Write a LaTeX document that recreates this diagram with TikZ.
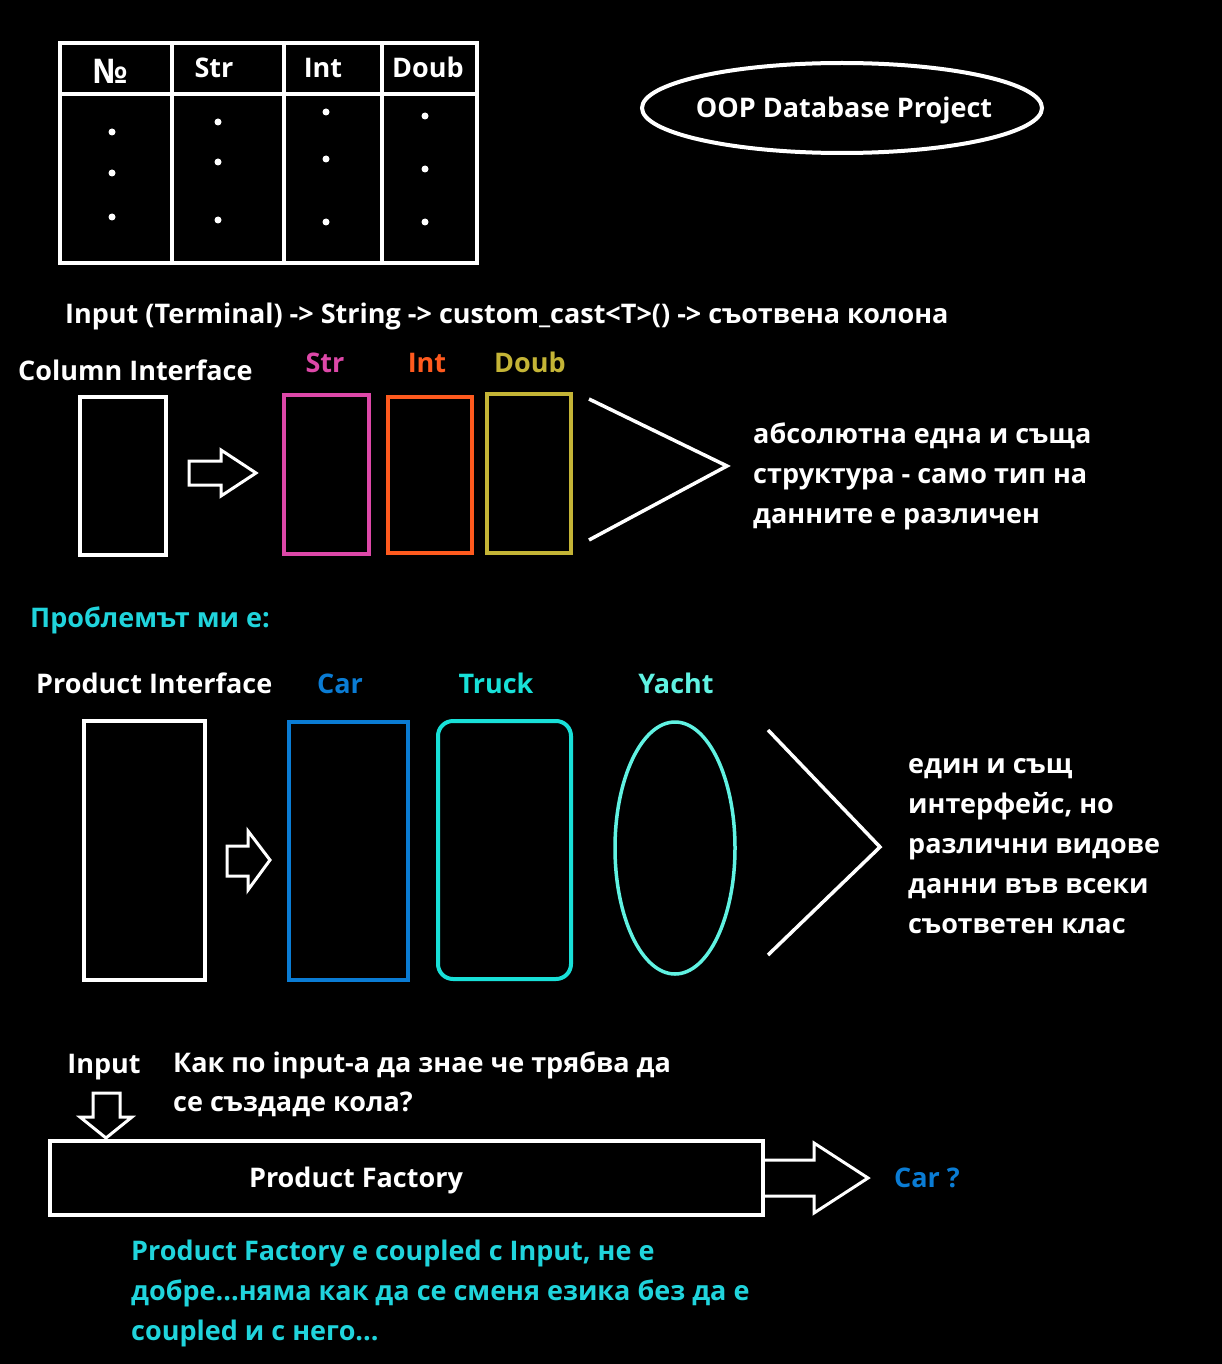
\documentclass[tikz,border=0pt]{standalone}
\usepackage{fontspec}
\setmainfont{Open Sans}
\usetikzlibrary{shapes.geometric}
\definecolor{cstr}{HTML}{DD48A8}
\definecolor{cint}{HTML}{FF5A1E}
\definecolor{cdoub}{HTML}{C4B436}
\definecolor{ccar}{HTML}{0A7CD4}
\definecolor{ctruck}{HTML}{18E0D8}
\definecolor{cyacht}{HTML}{60F2E2}
\definecolor{ccyan}{HTML}{20D4DC}
\begin{document}
\begin{tikzpicture}[x=1pt,y=-1pt,
  txt/.style={inner sep=0pt,text=white,font=\bfseries\fontsize{27}{40}\selectfont},
  lt/.style={txt,anchor=base west},
  ct/.style={txt,anchor=base},
  box/.style={draw=white,line width=4pt},
  harrow/.style={draw=white,line width=3pt,line join=miter},
  dotn/.style={circle,fill=white,inner sep=0pt,minimum size=7pt}]
\fill[black] (0,0) rectangle (1222,1364);
\useasboundingbox (0,0) rectangle (1222,1364);
% table
\draw[box] (60,43) rectangle (477,263);
\draw[box] (60,94) -- (477,94);
\draw[box] (172,43) -- (172,263);
\draw[box] (284,43) -- (284,263);
\draw[box] (382,43) -- (382,263);
\node[ct,font=\bfseries\fontsize{34}{40}\selectfont] (hno) at (110,84) {№};
\node[ct] (hstr) at (214,78) {Str};
\node[ct] (hint) at (323,78) {Int};
\node[ct] (hdoub) at (428,78) {Doub};
\foreach \x/\a/\b/\c [count=\i] in {112/132/173/217,218/122/162/220,326/112/159/222,425/116/169/222}{
  \node[dotn] (d\i a) at (\x,\a) {};
  \node[dotn] (d\i b) at (\x,\b) {};
  \node[dotn] (d\i c) at (\x,\c) {};
}
% title ellipse
\node[ellipse,draw=white,line width=4pt,minimum width=400pt,minimum height=90pt,inner sep=0pt] (title) at (842,108) {};
\node[ct] (titletxt) at (844,118) {OOP Database Project};
% flow line
\node[lt] (flow) at (65,323) {Input (Terminal) -> String -> custom\_cast<T>() -> съотвена колона};
% column interface
\node[lt] (colif) at (18,380) {Column Interface};
\node[ct,text=cstr] (lstr) at (325,372) {Str};
\node[ct,text=cint] (lint) at (427,372) {Int};
\node[ct,text=cdoub] (ldoub) at (530,372) {Doub};
\draw[box] (80,397) rectangle (166,555);
\draw[harrow] (189,461) -- (221,461) -- (221,450) -- (256,473) -- (221,496) -- (221,485) -- (189,485) -- cycle;
\draw[draw=cstr,line width=4pt] (284,395) rectangle (369,554);
\draw[draw=cint,line width=4pt] (388,397) rectangle (472,553);
\draw[draw=cdoub,line width=4pt] (487,394) rectangle (571,553);
\coordinate (ch1a) at (589,399);
\coordinate (ch1b) at (727,466);
\coordinate (ch1c) at (589,540);
\draw[white,line width=3.5pt,line join=miter] (ch1a) -- (ch1b) -- (ch1c);
\node[lt] (same1) at (753,443) {абсолютна една и съща};
\node[lt] (same2) at (753,483) {структура - само тип на};
\node[lt] (same3) at (753,523) {данните е различен};
% problem
\node[lt,text=ccyan] (problem) at (30,627) {Проблемът ми е:};
% product interface
\node[lt] (prodif) at (36,693) {Product Interface};
\node[ct,text=ccar] (lcar) at (340,693) {Car};
\node[ct,text=ctruck] (ltruck) at (496,693) {Truck};
\node[ct,text=cyacht] (lyacht) at (676,693) {Yacht};
\draw[box] (84,721) rectangle (205,980);
\draw[harrow] (227,846) -- (248,846) -- (248,831) -- (270,860) -- (248,890) -- (248,876) -- (227,876) -- cycle;
\draw[draw=ccar,line width=4pt] (289,722) rectangle (408,980);
\draw[draw=ctruck,line width=4pt,rounded corners=15pt] (438,721) rectangle (571,979);
\node[ellipse,draw=cyacht,line width=3.5pt,minimum width=120pt,minimum height=252pt,inner sep=0pt] (yacht) at (675,848) {};
\coordinate (ch2a) at (768,730);
\coordinate (ch2b) at (880,847);
\coordinate (ch2c) at (768,955);
\draw[white,line width=3.5pt,line join=miter] (ch2a) -- (ch2b) -- (ch2c);
\node[lt] (diff1) at (908,773) {един и същ};
\node[lt] (diff2) at (908,813) {интерфейс, но};
\node[lt] (diff3) at (908,853) {различни видове};
\node[lt] (diff4) at (908,893) {данни във всеки};
\node[lt] (diff5) at (908,933) {съответен клас};
% factory
\node[ct] (input) at (104,1073) {Input};
\node[lt] (q1) at (173,1072) {Как по input-а да знае че трябва да};
\node[lt] (q2) at (173,1111) {се създаде кола?};
\draw[harrow] (93,1093) -- (120,1093) -- (120,1117) -- (132,1117) -- (106,1138) -- (80,1117) -- (93,1117) -- cycle;
\node[draw=white,line width=4pt,minimum width=713pt,minimum height=74pt,inner sep=0pt] (factory) at (406,1178) {};
\node[ct] (factorytxt) at (356,1187) {Product Factory};
\draw[harrow] (factory.east |- 0,1160) -- (814,1160) -- (814,1143) -- (868,1178) -- (814,1213) -- (814,1196) -- (factory.east |- 0,1196);
\node[lt,text=ccar] (carq) at (894,1187) {Car ?};
\node[lt,text=ccyan] (c1) at (131,1260) {Product Factory е coupled с Input, не е};
\node[lt,text=ccyan] (c2) at (131,1300) {добре...няма как да се сменя езика без да е};
\node[lt,text=ccyan] (c3) at (131,1340) {coupled и с него...};
\end{tikzpicture}
\end{document}
